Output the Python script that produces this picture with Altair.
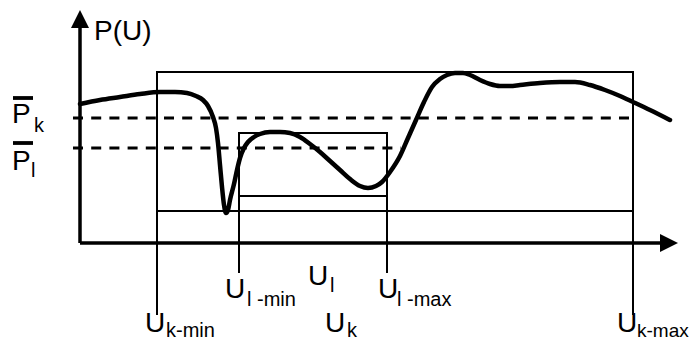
import altair as alt
import pandas as pd

# ---- curve P(U) (U to the right of the P axis, P above the U axis)
curve_u = [0, 20, 40, 60, 80, 95, 107, 116, 123, 128, 133, 136, 138, 140, 142, 144, 146,
           148, 150, 154, 157, 160, 164, 168, 174, 180, 190, 200, 210, 220, 230, 240, 250,
           260, 270, 280, 288, 296, 302, 310, 320, 328, 336, 344, 352, 360, 367, 375, 383,
           390, 400, 410, 420, 430, 440, 460, 480, 495, 510, 525, 540, 553, 570, 590]
curve_p = [139, 143, 146, 149, 151, 151, 150, 147, 143, 137, 126, 115, 100, 78, 56, 38, 30,
           33, 43, 59, 73, 85, 95, 101, 106, 109, 111, 111, 110, 106, 99, 91, 82,
           73, 64, 57, 55, 57, 61, 71, 87, 105, 123, 141, 156, 164, 168, 170, 170,
           168, 163, 159, 157, 157, 158, 160, 161, 161, 158, 153, 147, 141, 133, 123]

# ---- intervals and mean levels
u_k = [77, 553]      # U k-min, U k-max
u_l = [159, 307]     # U l-min, U l-max
p_k_box = [32, 171]  # big box bottom / top
p_l_box = [47, 110]  # small box bottom / top
p_k_mean = 125
p_l_mean = 95

# ---- labels
main_text = ["P(U)", "P", "P", "U", "U", "U", "U", "U", "U"]
main_u = [14, -68, -68, 145, 228, 298, 65, 245, 537]
main_p = [203, 120, 73, -55, -42, -55, -89, -89, -89]
sub_text = ["k", "l", "l -min", "l", "l -max", "k-min", "k"]
sub_u = [-46, -49, 167, 250, 317, 86, 267]
sub_p = [111, 66, -63, -49, -63, -94, -94]
edge_sub_text = ["k-max"]
edge_sub_u = [557]
edge_sub_p = [-94]

X_DOM = [-72, 609]
Y_DOM = [-99, 235]
xs = alt.Scale(domain=X_DOM, nice=False, zero=False)
ys = alt.Scale(domain=Y_DOM, nice=False, zero=False)


def X(f):
    return alt.X(f, type="quantitative", scale=xs, axis=None)


def Y(f):
    return alt.Y(f, type="quantitative", scale=ys, axis=None)


FONT = "Liberation Sans"

curve_df = pd.DataFrame({"u": curve_u, "p": curve_p})
curve = alt.Chart(curve_df).mark_line(
    color="black", strokeWidth=4.5, interpolate="monotone", strokeCap="round"
).encode(x=X("u"), y=Y("p"))

axes_df = pd.DataFrame({
    "u": [0, 0], "u2": [0, 582], "p": [0, 0], "p2": [218, 0]
})
axes = alt.Chart(axes_df).mark_rule(color="black", strokeWidth=3.5).encode(
    x=X("u"), x2="u2", y=Y("p"), y2="p2"
)

arrow_up = alt.Chart(pd.DataFrame({"u": [0], "p": [224]})).mark_point(
    shape="M0,-1L1,1L-1,1Z", size=324, filled=True, color="black", opacity=1, strokeWidth=0
).encode(x=X("u"), y=Y("p"))
arrow_right = alt.Chart(pd.DataFrame({"u": [589], "p": [0]})).mark_point(
    shape="M1,0L-1,-1L-1,1Z", size=324, filled=True, color="black", opacity=1, strokeWidth=0
).encode(x=X("u"), y=Y("p"))

boxes_df = pd.DataFrame({
    "u": [u_k[0], u_l[0]], "u2": [u_k[1], u_l[1]],
    "p": [p_k_box[0], p_l_box[0]], "p2": [p_k_box[1], p_l_box[1]],
})
boxes = alt.Chart(boxes_df).mark_rect(
    filled=False, stroke="black", strokeWidth=2, fill=None
).encode(x=X("u"), x2="u2", y=Y("p"), y2="p2")

vert_df = pd.DataFrame({
    "u": [u_k[0], u_k[1], u_l[0], u_l[1]],
    "p": [p_k_box[1], p_k_box[1], p_l_box[1], p_l_box[1]],
    "p2": [-72, -72, -30, -30],
})
verts = alt.Chart(vert_df).mark_rule(color="black", strokeWidth=2).encode(
    x=X("u"), y=Y("p"), y2="p2"
)

dash_df = pd.DataFrame({
    "u": [-7, -7], "u2": [u_k[1], 321], "p": [p_k_mean, p_l_mean]
})
dashes = alt.Chart(dash_df).mark_rule(
    color="black", strokeWidth=3, strokeDash=[10, 8.2]
).encode(x=X("u"), x2="u2", y=Y("p"))

bars_df = pd.DataFrame({"u": [-67, -67], "u2": [-47, -47], "p": [145, 100]})
bars = alt.Chart(bars_df).mark_rule(color="black", strokeWidth=3.8).encode(
    x=X("u"), x2="u2", y=Y("p")
)

main_df = pd.DataFrame({"t": main_text, "u": main_u, "p": main_p})
main_lbl = alt.Chart(main_df).mark_text(
    font=FONT, fontSize=28, align="left", baseline="alphabetic", color="black"
).encode(x=X("u"), y=Y("p"), text="t:N")

sub_df = pd.DataFrame({"t": sub_text, "u": sub_u, "p": sub_p})
sub_lbl = alt.Chart(sub_df).mark_text(
    font=FONT, fontSize=20, align="left", baseline="alphabetic", color="black"
).encode(x=X("u"), y=Y("p"), text="t:N")

edge_df = pd.DataFrame({"t": edge_sub_text, "u": edge_sub_u, "p": edge_sub_p})
edge_lbl = alt.Chart(edge_df).mark_text(
    font=FONT, fontSize=19, align="left", baseline="alphabetic", color="black"
).encode(x=X("u"), y=Y("p"), text="t:N")

chart = alt.layer(
    boxes, verts, dashes, axes, arrow_up, arrow_right, curve, bars,
    main_lbl, sub_lbl, edge_lbl
).properties(
    width=681, height=334, padding=0,
    autosize=alt.AutoSizeParams(type="none"),
    background="white",
).configure_view(stroke=None)

chart.save("out.html", embed_options={"renderer": "svg", "actions": False})
